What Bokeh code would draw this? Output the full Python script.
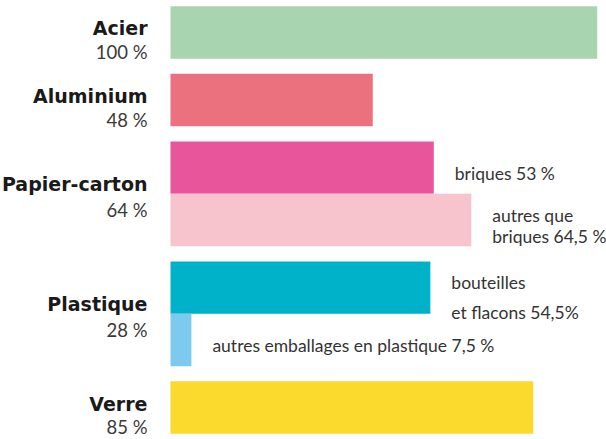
from bokeh.plotting import figure
from bokeh.models import ColumnDataSource, FactorRange, Range1d
from bokeh.core.properties import value
from bokeh.embed import file_html
from bokeh.resources import INLINE

# ---- data ----
materials = ["Acier", "Aluminium", "Papier-carton", "Plastique", "Verre"]
material_rates = ["100 %", "48 %", "64 %", "28 %", "85 %"]

bar_groups = ["Acier", "Aluminium", "Papier-carton", "Papier-carton",
              "Plastique", "Plastique", "Verre"]
bar_parts = ["total", "total", "briques", "autres", "bouteilles", "autres", "total"]
bar_lengths = [100, 47.4, 61.7, 70.5, 60.9, 4.9, 85]
bar_colors = ["#a8d4af", "#ec717f", "#e8559a", "#f7c3cd", "#00b1ca", "#7ccbef", "#fcd92d"]

part_labels = [[], [], ["briques 53 %"], ["autres que", "briques 64,5 %"],
               ["bouteilles", "et flacons 54,5%"],
               ["autres emballages en plastique 7,5 %"], []]

# ---- layout ----
W, H = 606, 439
PX_PER_UNIT = 4.267          # px per percent
LEFT_PX = 170                # left edge of bars inside the frame

keys = list(zip(bar_groups, bar_parts))
factors = list(reversed(keys))

p = figure(width=W, height=H,
           x_range=Range1d(-LEFT_PX / PX_PER_UNIT, (W - LEFT_PX) / PX_PER_UNIT),
           y_range=FactorRange(factors=factors, group_padding=0.29,
                               factor_padding=0, range_padding=0.11,
                               range_padding_units="absolute"),
           output_backend="svg", toolbar_location=None,
           min_border=0, min_border_left=0, min_border_right=0,
           min_border_top=0, min_border_bottom=0)
p.xaxis.visible = False
p.yaxis.visible = False
p.grid.visible = False
p.outline_line_color = None
p.background_fill_color = "white"
p.border_fill_color = "white"

bars = ColumnDataSource(dict(y=keys, right=bar_lengths, color=bar_colors))
p.hbar(y="y", left=0, right="right", height=1.0, fill_color="color",
       line_color=None, source=bars)

# category names and rates (two-line block centred on the group)
n_bars = [bar_groups.count(m) for m in materials]
name_off = [-4 if n == 1 else -9.5 for n in n_bars]
rate_off = [19.5 if n == 1 else 16 for n in n_bars]
names = ColumnDataSource(dict(y=materials, x=[0] * len(materials),
                              name=materials, rate=material_rates,
                              no=name_off, ro=rate_off))
p.text(x="x", y="y", text="name", source=names, x_offset=-23, y_offset="no",
       text_align="right", text_baseline="alphabetic",
       text_font=value("DejaVu Sans"), text_font_style="bold",
       text_font_size="19px", text_color="#1a1a1a")
p.text(x="x", y="y", text="rate", source=names, x_offset=-23, y_offset="ro",
       text_align="right", text_baseline="alphabetic",
       text_font=value("Lato"), text_font_size="18.5px", text_color="#3a3a3a")

# part annotations
line_offsets = {1: [5.5], 2: [-5, 16.5]}
ax, ay, at, ao = [], [], [], []
for k, length, lines in zip(keys, bar_lengths, part_labels):
    if not lines:
        continue
    offs = line_offsets[len(lines)]
    if k == ("Plastique", "bouteilles"):
        offs = [-5, 25]
    for t, o in zip(lines, offs):
        ax.append(length)
        ay.append(k)
        at.append(t)
        ao.append(o)
ann = ColumnDataSource(dict(x=ax, y=ay, text=at, yo=ao))
p.text(x="x", y="y", text="text", source=ann, x_offset=21, y_offset="yo",
       text_align="left", text_baseline="alphabetic",
       text_font=value("Lato"), text_font_size="17.5px", text_color="#333333")

open("out.html", "w").write(file_html(p, INLINE))
